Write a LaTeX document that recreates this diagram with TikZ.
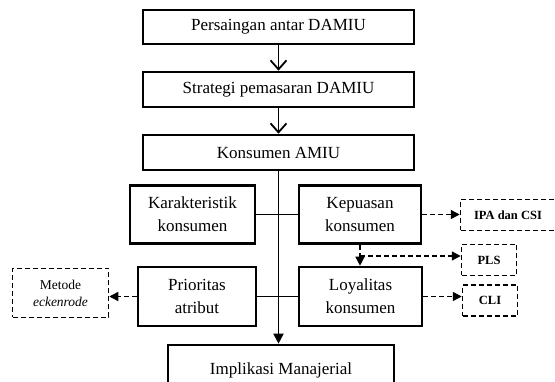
\documentclass[tikz,border=0pt]{standalone}
\usepackage{fontspec}
\setmainfont{Liberation Serif}
\usepackage{tikz}
\usetikzlibrary{arrows.meta}

\begin{document}
\begin{tikzpicture}[x=1pt,y=-1pt,
    mainbox/.style={draw, line width=2.6pt, align=center, inner sep=0pt,
        font=\fontsize{17}{23}\selectfont},
    toolbox/.style={draw, dashed, line width=1.5pt, dash pattern=on 5pt off 3pt,
        align=center, inner sep=0pt, font=\fontsize{13.5}{17}\selectfont},
    link/.style={line width=1.8pt},
    dlink/.style={line width=1.5pt, dash pattern=on 5pt off 3pt, -{Triangle[length=9pt,width=9pt]}}]
                \useasboundingbox (0,0) rectangle (555,382);
                \clip (0,0) rectangle (555,382);
                % alur utama
                \node[mainbox, minimum width=271pt, minimum height=34pt] (pers) at (278.5,27) {Persaingan antar DAMIU};
                \node[mainbox, minimum width=271pt, minimum height=35pt] (strat) at (278.5,89.5) {Strategi pemasaran DAMIU};
                \node[mainbox, minimum width=271pt, minimum height=35pt] (kons) at (278.5,152.5) {Konsumen AMIU};
                \node[mainbox, minimum width=125pt, minimum height=58pt] (kar) at (192.5,214.5) {Karakteristik\\konsumen};
                \node[mainbox, minimum width=122pt, minimum height=58pt] (kep) at (360,214.5) {Kepuasan\\konsumen};
                \node[mainbox, minimum width=118pt, minimum height=59pt] (prio) at (197,296.5) {Prioritas\\atribut};
                \node[mainbox, minimum width=123pt, minimum height=59pt] (loy) at (360.5,296.5) {Loyalitas\\konsumen};
                \node[mainbox, minimum width=226pt, minimum height=50pt] (impl) at (281,370) {Implikasi Manajerial};
                % metode analisis
                \node[toolbox, minimum width=96pt, minimum height=49pt] (meto) at (60.5,293) {Metode\\\textit{eckenrode}};
                \node[toolbox, minimum width=95pt, minimum height=31pt, font=\fontsize{12.5}{15}\selectfont\bfseries] (ipa) at (508,215) {IPA dan CSI};
                \node[toolbox, minimum width=55pt, minimum height=31pt, font=\fontsize{12.5}{15}\selectfont\bfseries] (pls) at (489,260) {PLS};
                \node[toolbox, minimum width=55pt, minimum height=31pt, font=\fontsize{12.5}{15}\selectfont\bfseries] (cli) at (490,300.5) {CLI};
                % panah
                \draw[link, -{Straight Barb[length=9pt,width=16pt]}] (pers) -- (strat);
                \draw[link, -{Straight Barb[length=9pt,width=16pt]}] (strat) -- (kons);
                \draw[link, -{Triangle[length=10pt,width=10pt]}] (kons.south) -- (kons.south |- impl.north);
                \draw[link] (kar) -- (kep);
                \draw[link] (prio) -- (loy);
                \draw[dlink] (kep.east) -- (kep.east -| ipa.west);
                \coordinate (split) at (kep.south |- 0,256);
                \draw[dlink] (kep.south) -- (kep.south |- loy.north);
                \draw[dlink] (split) -- (split -| pls.west);
                \draw[dlink] (loy.east) -- (loy.east -| cli.west);
                \draw[dlink] (prio.west) -- (prio.west -| meto.east);
            \end{tikzpicture}
\end{document}
